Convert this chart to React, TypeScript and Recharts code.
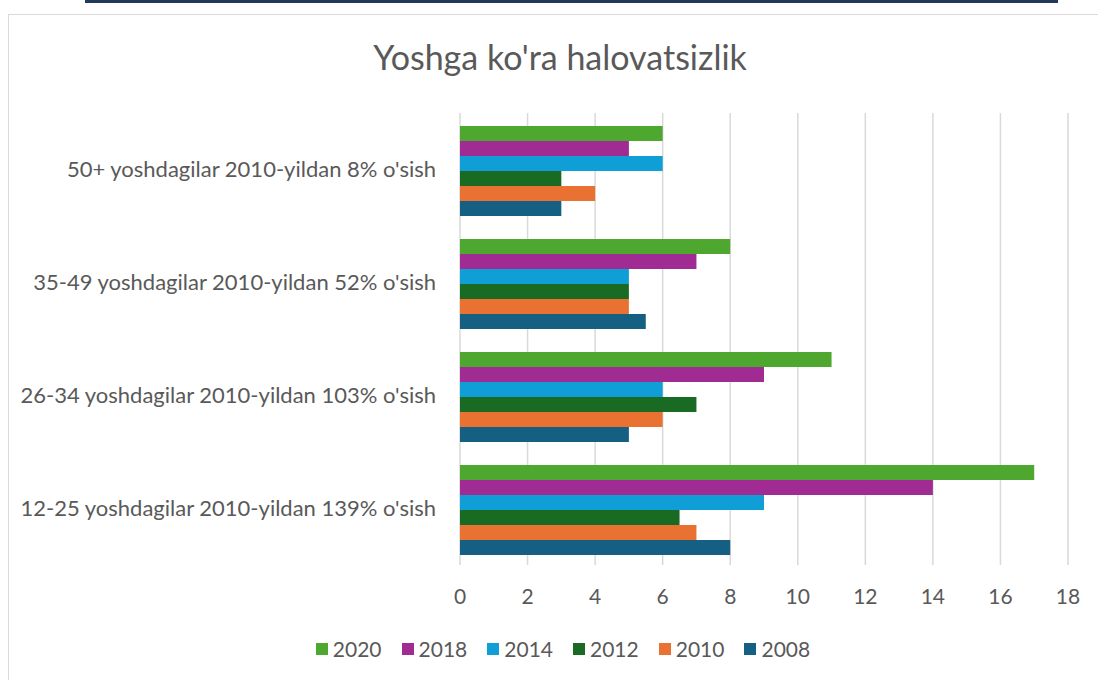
import React from 'react';
import { BarChart, Bar, XAxis, YAxis, CartesianGrid } from 'recharts';

// categories, top to bottom as drawn
const categories = [
  "50+ yoshdagilar 2010-yildan 8% o'sish",
  "35-49 yoshdagilar 2010-yildan 52% o'sish",
  "26-34 yoshdagilar 2010-yildan 103% o'sish",
  "12-25 yoshdagilar 2010-yildan 139% o'sish",
];

const v2020 = [6, 8, 11, 17];
const v2018 = [5, 7, 9, 14];
const v2014 = [6, 5, 6, 9];
const v2012 = [3, 5, 7, 6.5];
const v2010 = [4, 5, 6, 7];
const v2008 = [3, 5.5, 5, 8];

const xTicks = [0, 2, 4, 6, 8, 10, 12, 14, 16, 18];

const series = [
  { key: '2020', values: v2020, color: '#4ea72e' },
  { key: '2018', values: v2018, color: '#a02b93' },
  { key: '2014', values: v2014, color: '#0f9ed5' },
  { key: '2012', values: v2012, color: '#196b24' },
  { key: '2010', values: v2010, color: '#e97132' },
  { key: '2008', values: v2008, color: '#156082' },
];

const data = categories.map((name, i) => {
  const row: Record<string, string | number> = { name };
  series.forEach(s => { row[s.key] = s.values[i]; });
  return row;
});

const FONT = 'Lato, "Open Sans", sans-serif';
const TEXT = '#595959';

const App: React.FC = () => {
  return (
    <div style={{ position: 'absolute', left: 0, top: 0, width: 1098, height: 680, overflow: 'hidden', background: '#fff' }}>
      {/* top strip and chart frame */}
      <div style={{ position: 'absolute', left: 85, top: 0, width: 973, height: 3, background: '#213a5c' }} />
      <div style={{ position: 'absolute', left: 8, top: 14, width: 1120, height: 720, border: '1px solid #d9d9d9' }} />
      <div style={{ position: 'absolute', left: 0, top: 37, width: 1120, textAlign: 'center', fontFamily: FONT, fontSize: 34, color: TEXT, lineHeight: '40px' }}>
        Yoshga ko'ra halovatsizlik
      </div>
      <div style={{ position: 'absolute', left: 0, top: 0 }}>
        <BarChart
          width={1098}
          height={680}
          data={data}
          layout="vertical"
          margin={{ top: 113, right: 30, bottom: 85, left: 0 }}
          barCategoryGap="11.5%"
          barGap={0}
        >
          <CartesianGrid horizontal={false} stroke="#d9d9d9" strokeWidth={1.5} />
          <XAxis
            type="number"
            domain={[0, 18]}
            ticks={xTicks}
            axisLine={false}
            tickLine={false}
            tickMargin={18}
            tick={{ fill: TEXT, fontSize: 21, fontFamily: FONT }}
          />
          <YAxis
            type="category"
            dataKey="name"
            width={460}
            axisLine={false}
            tickLine={false}
            tickMargin={18}
            tick={{ fill: TEXT, fontSize: 22, fontFamily: FONT }}
          />
          {series.map(s => (
            <Bar key={s.key} dataKey={s.key} fill={s.color} isAnimationActive={false} />
          ))}
        </BarChart>
      </div>
      {/* legend */}
      <div style={{ position: 'absolute', left: 0, top: 636, width: 1126, display: 'flex', justifyContent: 'center', gap: 20, fontFamily: FONT, fontSize: 21, color: TEXT, lineHeight: '26px' }}>
        {series.map(s => (
          <div key={s.key} style={{ display: 'flex', alignItems: 'center', gap: 5 }}>
            <div style={{ width: 12, height: 12, background: s.color }} />
            <span>{s.key}</span>
          </div>
        ))}
      </div>
    </div>
  );
};

export default App;
